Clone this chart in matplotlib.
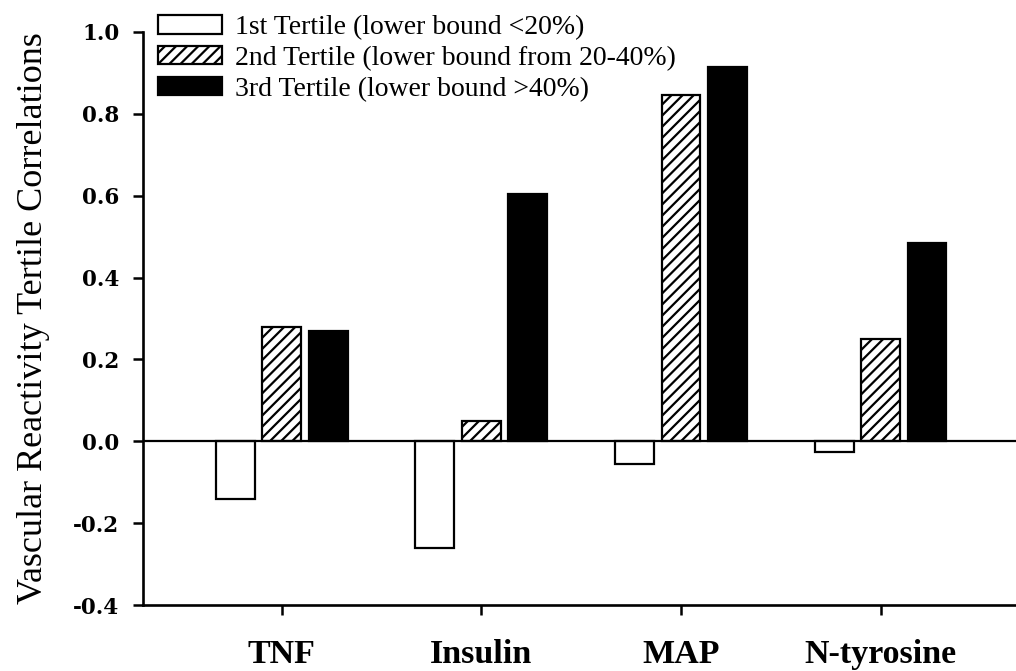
import matplotlib
matplotlib.use("Agg")
import matplotlib.pyplot as plt
import numpy as np

categories = ["TNF", "Insulin", "MAP", "N-tyrosine"]
series_names = ["1st Tertile (lower bound <20%)",
                "2nd Tertile (lower bound from 20-40%)",
                "3rd Tertile (lower bound >40%)"]
tertile1 = [-0.14, -0.26, -0.055, -0.025]
tertile2 = [0.28, 0.05, 0.845, 0.25]
tertile3 = [0.27, 0.605, 0.915, 0.485]
yticks = [-0.4, -0.2, 0.0, 0.2, 0.4, 0.6, 0.8, 1.0]

plt.rcParams['hatch.linewidth'] = 1.6
fig = plt.figure(figsize=(10.16, 6.71), dpi=100)
ax = fig.add_axes([143/1016, 1-605/671, 1-143/1016 + 0.02, (605-32)/671])

x = np.arange(len(categories))
w = 0.195
off = 0.2325
styles = [dict(facecolor="white", edgecolor="black", hatch=None),
          dict(facecolor="white", edgecolor="black", hatch="///"),
          dict(facecolor="black", edgecolor="black", hatch=None)]
for i, (vals, st, name) in enumerate(zip([tertile1, tertile2, tertile3], styles, series_names)):
    ax.bar(x + (i - 1) * off, vals, width=w, linewidth=1.6, label=name, zorder=3, **st)

ax.axhline(0, color="black", linewidth=1.6, zorder=4)
ax.set_xlim(-0.695, 3.78)
ax.set_ylim(-0.4, 1.0)
ax.set_yticks(yticks)
ax.set_yticklabels([f"{v:.1f}" for v in yticks], fontfamily="DejaVu Serif", fontweight="bold", fontsize=15.5)
ax.set_xticks(x)
ax.set_xticklabels(categories, fontfamily="Liberation Serif", fontweight="bold", fontsize=24.5)
ax.tick_params(axis="x", length=7, width=1.8, pad=17.5)
ax.tick_params(axis="y", length=7, width=1.8, pad=10)
for s in ["top", "right"]:
    ax.spines[s].set_visible(False)
for s in ["left", "bottom"]:
    ax.spines[s].set_linewidth(1.9)
ax.set_ylabel("Vascular Reactivity Tertile Correlations", fontfamily="Liberation Serif", fontsize=26)
ax.yaxis.set_label_coords(-0.104, 0.5)

leg = ax.legend(loc="upper left", bbox_to_anchor=(0.004, 1.049), frameon=False,
                prop=dict(family="Liberation Serif", size=20), handlelength=2.3, handleheight=0.65,
                labelspacing=0.21, handletextpad=0.5, borderaxespad=0)

fig.savefig("out.png", dpi=100)
